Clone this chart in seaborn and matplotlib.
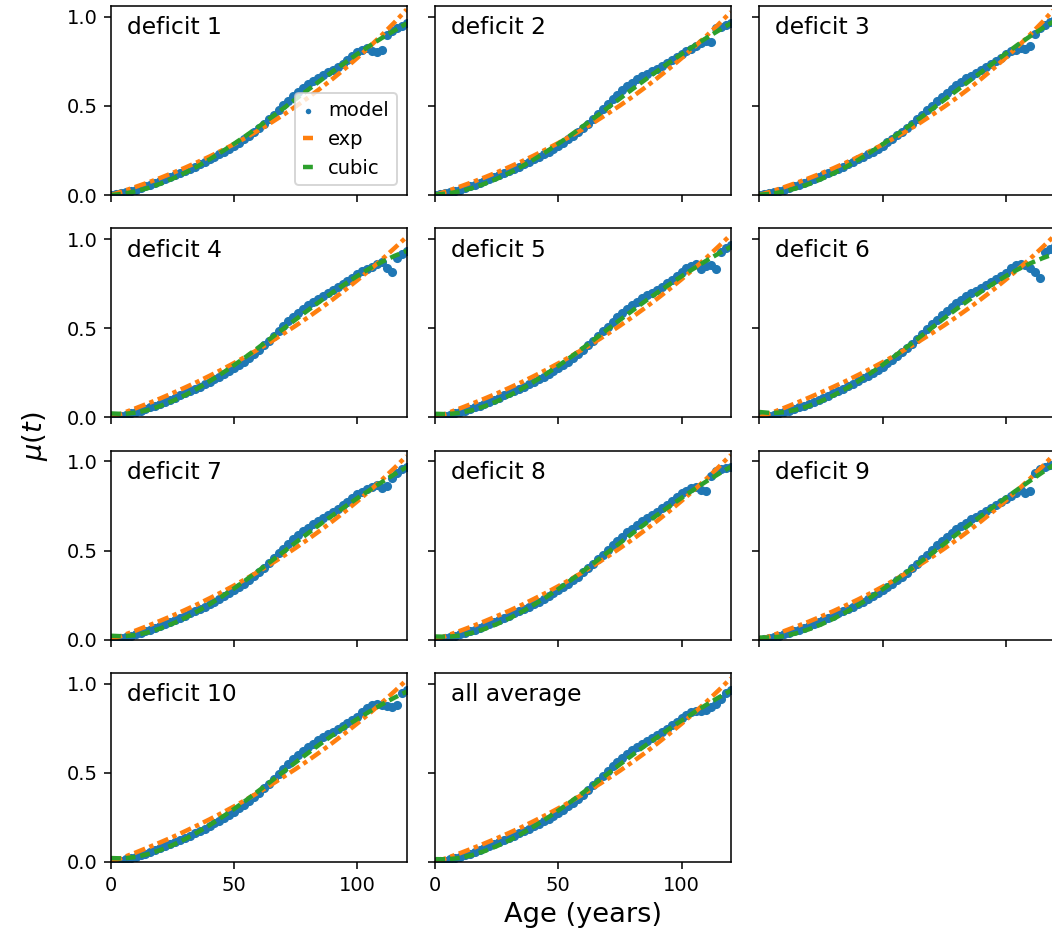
import matplotlib
matplotlib.use("Agg")
import matplotlib.pyplot as plt
import numpy as np
import seaborn as sns

# Ages at which the model and the two fits are sampled
model_ages = np.arange(0, 121, 2)
fit_ages = np.arange(0, 121, 5)

panel_names = ["deficit 1", "deficit 2", "deficit 3", "deficit 4", "deficit 5",
               "deficit 6", "deficit 7", "deficit 8", "deficit 9", "deficit 10",
               "all average"]

# Model mu(t), one value every 2 years
model_d1 = [0.000, 0.004, 0.010, 0.017, 0.024, 0.031, 0.039, 0.048, 0.057, 0.067,
            0.077, 0.088, 0.099, 0.111, 0.123, 0.135, 0.147, 0.160, 0.173, 0.186,
            0.200, 0.214, 0.228, 0.243, 0.259, 0.276, 0.294, 0.313, 0.333, 0.354,
            0.377, 0.401, 0.426, 0.451, 0.477, 0.503, 0.529, 0.554, 0.578, 0.600,
            0.621, 0.640, 0.657, 0.673, 0.688, 0.703, 0.719, 0.736, 0.755, 0.778,
            0.800, 0.815, 0.822, 0.808, 0.800, 0.812, 0.900, 0.918, 0.935, 0.950, 0.965]
model_d2 = [0.000, 0.004, 0.010, 0.017, 0.024, 0.031, 0.039, 0.048, 0.057, 0.067,
            0.077, 0.088, 0.099, 0.111, 0.123, 0.135, 0.147, 0.160, 0.173, 0.186,
            0.200, 0.214, 0.228, 0.243, 0.259, 0.276, 0.294, 0.313, 0.333, 0.354,
            0.377, 0.401, 0.427, 0.454, 0.482, 0.510, 0.537, 0.563, 0.588, 0.610,
            0.631, 0.650, 0.666, 0.681, 0.695, 0.709, 0.724, 0.740, 0.757, 0.774,
            0.792, 0.806, 0.820, 0.835, 0.850, 0.862, 0.858, 0.935, 0.945, 0.955, 0.963]
model_d3 = [0.000, 0.004, 0.010, 0.017, 0.024, 0.031, 0.039, 0.048, 0.057, 0.067,
            0.077, 0.088, 0.099, 0.111, 0.123, 0.135, 0.147, 0.160, 0.173, 0.186,
            0.200, 0.214, 0.229, 0.244, 0.260, 0.277, 0.295, 0.314, 0.334, 0.355,
            0.377, 0.400, 0.424, 0.449, 0.475, 0.500, 0.526, 0.551, 0.574, 0.596,
            0.617, 0.636, 0.654, 0.670, 0.685, 0.700, 0.716, 0.733, 0.752, 0.771,
            0.790, 0.805, 0.815, 0.822, 0.820, 0.835, 0.905, 0.935, 0.955, 0.972, 0.985]
model_d4 = [0.000, 0.003, 0.008, 0.015, 0.022, 0.030, 0.038, 0.047, 0.056, 0.066,
            0.077, 0.088, 0.099, 0.111, 0.123, 0.135, 0.147, 0.160, 0.173, 0.186,
            0.200, 0.214, 0.228, 0.243, 0.259, 0.276, 0.294, 0.313, 0.333, 0.355,
            0.379, 0.404, 0.430, 0.457, 0.484, 0.511, 0.538, 0.563, 0.587, 0.609,
            0.630, 0.648, 0.665, 0.681, 0.697, 0.713, 0.729, 0.746, 0.764, 0.784,
            0.805, 0.820, 0.832, 0.845, 0.858, 0.872, 0.835, 0.815, 0.895, 0.915, 0.935]
model_d5 = [0.000, 0.003, 0.008, 0.015, 0.022, 0.030, 0.038, 0.047, 0.056, 0.066,
            0.077, 0.088, 0.099, 0.111, 0.123, 0.135, 0.147, 0.160, 0.173, 0.186,
            0.200, 0.214, 0.228, 0.243, 0.259, 0.276, 0.294, 0.313, 0.333, 0.355,
            0.378, 0.403, 0.429, 0.455, 0.482, 0.509, 0.536, 0.561, 0.585, 0.608,
            0.630, 0.649, 0.667, 0.684, 0.700, 0.716, 0.733, 0.751, 0.771, 0.793,
            0.815, 0.835, 0.848, 0.858, 0.830, 0.848, 0.852, 0.830, 0.925, 0.950, 0.965]
model_d6 = [0.000, 0.003, 0.008, 0.015, 0.022, 0.030, 0.038, 0.047, 0.056, 0.066,
            0.076, 0.087, 0.098, 0.110, 0.122, 0.134, 0.147, 0.160, 0.174, 0.188,
            0.203, 0.218, 0.233, 0.249, 0.266, 0.284, 0.303, 0.323, 0.344, 0.366,
            0.389, 0.414, 0.440, 0.467, 0.494, 0.521, 0.548, 0.574, 0.598, 0.620,
            0.640, 0.660, 0.678, 0.695, 0.711, 0.726, 0.742, 0.758, 0.775, 0.792,
            0.810, 0.835, 0.855, 0.858, 0.852, 0.840, 0.815, 0.780, 0.925, 0.945, 0.962]
model_d7 = [0.000, 0.003, 0.008, 0.015, 0.022, 0.030, 0.038, 0.047, 0.056, 0.066,
            0.077, 0.088, 0.099, 0.111, 0.123, 0.135, 0.147, 0.160, 0.173, 0.186,
            0.200, 0.214, 0.228, 0.243, 0.259, 0.276, 0.294, 0.313, 0.333, 0.355,
            0.379, 0.404, 0.430, 0.457, 0.484, 0.511, 0.538, 0.563, 0.586, 0.608,
            0.629, 0.648, 0.666, 0.683, 0.700, 0.717, 0.735, 0.754, 0.774, 0.795,
            0.815, 0.830, 0.845, 0.858, 0.866, 0.850, 0.862, 0.905, 0.935, 0.955, 0.968]
model_d8 = [0.000, 0.003, 0.008, 0.015, 0.022, 0.030, 0.038, 0.047, 0.056, 0.066,
            0.077, 0.088, 0.099, 0.111, 0.123, 0.135, 0.147, 0.160, 0.173, 0.186,
            0.200, 0.214, 0.228, 0.243, 0.259, 0.276, 0.294, 0.313, 0.333, 0.354,
            0.377, 0.401, 0.426, 0.451, 0.477, 0.503, 0.529, 0.554, 0.578, 0.601,
            0.623, 0.644, 0.663, 0.681, 0.699, 0.717, 0.736, 0.756, 0.777, 0.799,
            0.820, 0.835, 0.848, 0.858, 0.842, 0.832, 0.920, 0.945, 0.955, 0.962, 0.970]
model_d9 = [0.000, 0.003, 0.008, 0.015, 0.022, 0.030, 0.038, 0.047, 0.056, 0.066,
            0.077, 0.088, 0.099, 0.111, 0.123, 0.135, 0.147, 0.160, 0.173, 0.186,
            0.200, 0.214, 0.228, 0.243, 0.259, 0.276, 0.294, 0.313, 0.333, 0.354,
            0.376, 0.400, 0.425, 0.451, 0.477, 0.503, 0.529, 0.554, 0.577, 0.599,
            0.620, 0.639, 0.657, 0.674, 0.690, 0.706, 0.722, 0.738, 0.755, 0.772,
            0.790, 0.808, 0.825, 0.840, 0.822, 0.835, 0.935, 0.955, 0.970, 0.980, 0.988]
model_d10 = [0.000, 0.003, 0.008, 0.015, 0.022, 0.030, 0.038, 0.047, 0.056, 0.066,
             0.077, 0.088, 0.099, 0.111, 0.123, 0.135, 0.147, 0.160, 0.173, 0.186,
             0.201, 0.216, 0.231, 0.247, 0.264, 0.282, 0.301, 0.321, 0.343, 0.366,
             0.389, 0.414, 0.440, 0.467, 0.494, 0.521, 0.549, 0.575, 0.600, 0.623,
             0.644, 0.664, 0.682, 0.699, 0.715, 0.731, 0.747, 0.764, 0.781, 0.798,
             0.815, 0.840, 0.862, 0.878, 0.885, 0.882, 0.875, 0.868, 0.880, 0.945, 0.965]
model_avg = [0.000, 0.003, 0.008, 0.015, 0.022, 0.030, 0.038, 0.047, 0.056, 0.066,
             0.077, 0.088, 0.099, 0.111, 0.123, 0.135, 0.147, 0.160, 0.173, 0.186,
             0.200, 0.214, 0.228, 0.243, 0.259, 0.276, 0.294, 0.313, 0.333, 0.355,
             0.378, 0.403, 0.429, 0.456, 0.483, 0.510, 0.537, 0.562, 0.585, 0.607,
             0.628, 0.647, 0.664, 0.680, 0.696, 0.712, 0.729, 0.747, 0.766, 0.786,
             0.805, 0.825, 0.840, 0.845, 0.848, 0.855, 0.870, 0.885, 0.915, 0.945, 0.965]

# Exponential fit, one value every 5 years
exp_d1 = [0.000, 0.022, 0.046, 0.070, 0.096, 0.124, 0.153, 0.184, 0.216, 0.250, 0.286, 0.324, 0.364,
          0.406, 0.450, 0.497, 0.546, 0.598, 0.652, 0.709, 0.769, 0.832, 0.898, 0.967, 1.040]
exp_d2 = [0.000, 0.023, 0.047, 0.072, 0.099, 0.127, 0.157, 0.188, 0.221, 0.256, 0.292, 0.330, 0.370,
          0.412, 0.456, 0.502, 0.550, 0.601, 0.654, 0.709, 0.767, 0.828, 0.891, 0.957, 1.027]
exp_d3 = [0.000, 0.021, 0.044, 0.068, 0.094, 0.121, 0.150, 0.181, 0.213, 0.247, 0.283, 0.321, 0.361,
          0.403, 0.448, 0.495, 0.544, 0.596, 0.651, 0.709, 0.770, 0.834, 0.901, 0.972, 1.047]
exp_d4 = [0.000, 0.025, 0.051, 0.078, 0.106, 0.136, 0.167, 0.199, 0.233, 0.268, 0.305, 0.343, 0.383,
          0.425, 0.469, 0.514, 0.561, 0.610, 0.661, 0.714, 0.769, 0.826, 0.886, 0.948, 1.012]
exp_d5 = [0.000, 0.024, 0.050, 0.077, 0.105, 0.134, 0.165, 0.197, 0.231, 0.266, 0.303, 0.342, 0.382,
          0.424, 0.468, 0.514, 0.562, 0.612, 0.664, 0.718, 0.774, 0.833, 0.894, 0.958, 1.024]
exp_d6 = [0.000, 0.026, 0.053, 0.081, 0.110, 0.140, 0.171, 0.203, 0.237, 0.272, 0.309, 0.347, 0.387,
          0.428, 0.471, 0.516, 0.563, 0.612, 0.663, 0.716, 0.772, 0.830, 0.891, 0.955, 1.022]
exp_d7 = [0.000, 0.025, 0.051, 0.078, 0.106, 0.135, 0.166, 0.198, 0.232, 0.267, 0.304, 0.343, 0.383,
          0.425, 0.469, 0.515, 0.563, 0.613, 0.665, 0.719, 0.776, 0.835, 0.897, 0.962, 1.030]
exp_d8 = [0.000, 0.024, 0.049, 0.075, 0.103, 0.132, 0.162, 0.194, 0.228, 0.263, 0.300, 0.339, 0.379,
          0.422, 0.466, 0.513, 0.561, 0.612, 0.665, 0.720, 0.778, 0.838, 0.901, 0.967, 1.036]
exp_d9 = [0.000, 0.023, 0.048, 0.074, 0.101, 0.130, 0.160, 0.192, 0.225, 0.260, 0.297, 0.336, 0.376,
          0.419, 0.463, 0.510, 0.559, 0.610, 0.664, 0.720, 0.779, 0.841, 0.905, 0.973, 1.044]
exp_d10 = [0.000, 0.026, 0.053, 0.081, 0.110, 0.140, 0.172, 0.205, 0.239, 0.275, 0.312, 0.351, 0.391,
           0.433, 0.477, 0.522, 0.569, 0.618, 0.669, 0.722, 0.777, 0.834, 0.894, 0.956, 1.021]
exp_avg = [0.000, 0.024, 0.049, 0.076, 0.104, 0.133, 0.163, 0.195, 0.229, 0.264, 0.301, 0.340, 0.380,
           0.422, 0.466, 0.512, 0.560, 0.610, 0.663, 0.718, 0.775, 0.835, 0.897, 0.962, 1.030]

# Cubic fit, one value every 5 years
cubic_d1 = [0.000, 0.007, 0.021, 0.039, 0.063, 0.092, 0.124, 0.160, 0.200, 0.243, 0.288, 0.335, 0.384,
            0.435, 0.486, 0.538, 0.590, 0.642, 0.693, 0.742, 0.791, 0.837, 0.881, 0.922, 0.962]
cubic_d2 = [0.003, 0.008, 0.021, 0.039, 0.063, 0.091, 0.123, 0.159, 0.199, 0.242, 0.288, 0.336, 0.386,
            0.437, 0.489, 0.541, 0.593, 0.644, 0.694, 0.743, 0.790, 0.836, 0.880, 0.922, 0.963]
cubic_d3 = [0.002, 0.007, 0.020, 0.038, 0.061, 0.089, 0.121, 0.157, 0.196, 0.239, 0.284, 0.331, 0.380,
            0.430, 0.481, 0.533, 0.585, 0.637, 0.689, 0.741, 0.793, 0.844, 0.891, 0.936, 0.978]
cubic_d4 = [0.022, 0.019, 0.026, 0.041, 0.064, 0.092, 0.124, 0.161, 0.202, 0.246, 0.293, 0.342, 0.393,
            0.445, 0.497, 0.549, 0.601, 0.652, 0.701, 0.748, 0.793, 0.835, 0.872, 0.905, 0.933]
cubic_d5 = [0.020, 0.018, 0.025, 0.040, 0.062, 0.090, 0.122, 0.159, 0.199, 0.243, 0.289, 0.338, 0.389,
            0.441, 0.494, 0.546, 0.598, 0.649, 0.698, 0.745, 0.791, 0.835, 0.878, 0.918, 0.957]
cubic_d6 = [0.030, 0.024, 0.029, 0.043, 0.064, 0.091, 0.123, 0.160, 0.201, 0.246, 0.294, 0.344, 0.396,
            0.449, 0.502, 0.555, 0.607, 0.657, 0.705, 0.750, 0.792, 0.830, 0.864, 0.893, 0.918]
cubic_d7 = [0.022, 0.019, 0.026, 0.041, 0.063, 0.090, 0.122, 0.158, 0.198, 0.242, 0.288, 0.337, 0.388,
            0.440, 0.492, 0.545, 0.597, 0.648, 0.698, 0.746, 0.793, 0.839, 0.884, 0.927, 0.968]
cubic_d8 = [0.018, 0.016, 0.023, 0.038, 0.060, 0.087, 0.119, 0.155, 0.195, 0.238, 0.284, 0.333, 0.384,
            0.436, 0.489, 0.542, 0.595, 0.647, 0.698, 0.747, 0.795, 0.842, 0.887, 0.929, 0.970]
cubic_d9 = [0.012, 0.012, 0.020, 0.036, 0.058, 0.085, 0.117, 0.153, 0.193, 0.236, 0.282, 0.330, 0.380,
            0.432, 0.484, 0.537, 0.590, 0.642, 0.694, 0.745, 0.795, 0.844, 0.892, 0.939, 0.985]
cubic_d10 = [0.022, 0.020, 0.028, 0.044, 0.067, 0.095, 0.128, 0.165, 0.206, 0.251, 0.298, 0.348, 0.400,
             0.453, 0.506, 0.559, 0.611, 0.662, 0.711, 0.758, 0.802, 0.844, 0.884, 0.921, 0.955]
cubic_avg = [0.016, 0.015, 0.023, 0.039, 0.061, 0.089, 0.121, 0.158, 0.198, 0.242, 0.289, 0.338, 0.389,
             0.441, 0.494, 0.547, 0.599, 0.650, 0.699, 0.747, 0.793, 0.838, 0.881, 0.922, 0.961]

model_series = [model_d1, model_d2, model_d3, model_d4, model_d5, model_d6,
                model_d7, model_d8, model_d9, model_d10, model_avg]
exp_series = [exp_d1, exp_d2, exp_d3, exp_d4, exp_d5, exp_d6,
              exp_d7, exp_d8, exp_d9, exp_d10, exp_avg]
cubic_series = [cubic_d1, cubic_d2, cubic_d3, cubic_d4, cubic_d5, cubic_d6,
                cubic_d7, cubic_d8, cubic_d9, cubic_d10, cubic_avg]

DPI = 140
fig, axes = plt.subplots(4, 3, sharex=True, sharey=True,
                         figsize=(1052 / DPI, 934 / DPI), dpi=DPI)
fig.subplots_adjust(left=111 / 1052, right=1055 / 1052, bottom=1 - 862 / 934,
                    top=1 - 6 / 934, wspace=0.0967, hspace=0.176)

blue, orange, green = "#1f77b4", "#ff7f0e", "#2ca02c"

for i, ax in enumerate(axes.flat):
    if i >= len(panel_names):
        ax.set_visible(False)
        continue
    sns.scatterplot(x=model_ages, y=model_series[i], ax=ax, color=blue,
                    s=22, linewidth=0, label="model")
    sns.lineplot(x=fit_ages, y=exp_series[i], ax=ax, color=orange, linewidth=2.3,
                 linestyle=(0, (2.6, 1.0, 1.0, 1.0)), estimator=None, sort=False,
                 label="exp")
    sns.lineplot(x=fit_ages, y=cubic_series[i], ax=ax, color=green, linewidth=2.3,
                 linestyle=(0, (2.2, 1.1)), estimator=None, sort=False,
                 label="cubic")
    ax.text(0.054, 0.945, panel_names[i], transform=ax.transAxes,
            fontsize=12, ha="left", va="top")
    if i == 0:
        ax.legend(loc="lower right", handlelength=0.5, markerscale=0.6)
    else:
        ax.get_legend().remove()

axes[0, 0].set_xlim(0, 120)
axes[0, 0].set_ylim(0, 1.06)
axes[0, 0].set_xticks([0, 50, 100])
axes[0, 0].set_yticks([0.0, 0.5, 1.0])

axes[3, 1].set_xlabel("Age (years)", fontsize=14)
fig.text(35 / 1052, 1 - 436 / 934, r"$\mu(t)$", rotation=90, fontsize=14,
         ha="center", va="center")

fig.savefig("out.png", dpi=DPI)
